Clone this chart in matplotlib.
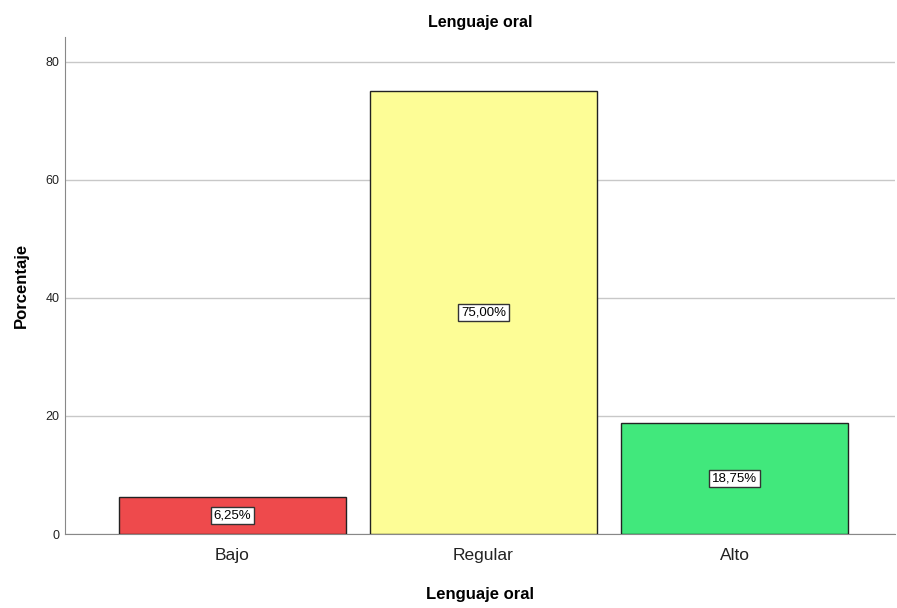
import matplotlib
matplotlib.use("Agg")
import matplotlib.pyplot as plt

plt.rcParams['font.family'] = ['Liberation Sans', 'DejaVu Sans']

categorias = ["Bajo", "Regular", "Alto"]
porcentajes = [6.25, 75.00, 18.75]
etiquetas = ["6,25%", "75,00%", "18,75%"]
colores = ["#EE4A4C", "#FDFD96", "#41E87C"]

fig = plt.figure(figsize=(8.97, 6.08), dpi=100)
ax = fig.add_axes([0.0725, 0.1217, 0.9255, 0.8173])

x = range(len(categorias))
ax.bar(x, porcentajes, width=0.904, color=colores, edgecolor="#222222", linewidth=1, zorder=3)

for xi, v, lab in zip(x, porcentajes, etiquetas):
    ax.text(xi, v / 2, lab, ha="center", va="center", fontsize=9.5, zorder=4,
            bbox=dict(boxstyle="square,pad=0.2", facecolor="white", edgecolor="#333333", linewidth=1))

ax.set_xlim(-0.667, 2.64)
ax.set_ylim(0, 84.2)
ax.set_yticks([0, 20, 40, 60, 80])
ax.set_xticks(list(x))
ax.set_xticklabels(categorias, fontsize=12.5, color="#222222")
ax.tick_params(axis="y", length=0, labelsize=9, colors="#222222", pad=4)
ax.tick_params(axis="x", length=0, pad=10)
ax.yaxis.grid(True, color="#C8C8C8", linewidth=1, zorder=0)
ax.set_axisbelow(True)

for s in ["top", "right"]:
    ax.spines[s].set_visible(False)
ax.spines["left"].set_color("#888888")
ax.spines["bottom"].set_color("#888888")

ax.set_title("Lenguaje oral", fontsize=11.5, fontweight="bold", pad=7)
ax.set_xlabel("Lenguaje oral", fontsize=12, fontweight="bold", labelpad=17)
ax.set_ylabel("Porcentaje", fontsize=12, fontweight="bold", labelpad=12)

fig.savefig("out.png", dpi=100)
